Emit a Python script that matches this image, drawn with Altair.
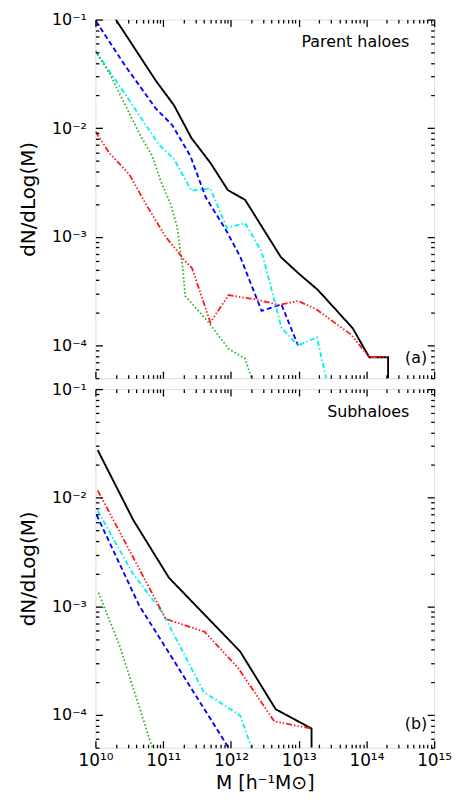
import altair as alt
import pandas as pd

# ---------------- data ----------------
SERIES = ["total", "blue", "cyan", "green", "red"]
COLORS = ["#000000", "#0000ff", "#00f2f2", "#2db52d", "#ff1a1a"]
DASHES = [[1, 0], [5, 3], [5, 2.5, 1.5, 2.5], [1.6, 2.2],
          [6, 2, 1.5, 2, 1.5, 2, 1.5, 2]]
WIDTHS = [1.9, 1.8, 1.8, 1.8, 1.8]

# (a) parent haloes
a_total_m = [2.0e10, 7.76e10, 1.44e11, 2.62e11, 4.98e11, 9.02e11, 1.62e12, 5.47e12,
             1.04e13, 1.92e13, 6.28e13, 1.10e14, 2.09e14, 2.09e14]
a_total_n = [1.0e-1, 2.75e-2, 1.63e-2, 8.1e-3, 4.8e-3, 2.69e-3, 2.19e-3, 6.5e-4,
             4.5e-4, 3.25e-4, 1.44e-4, 7.8e-5, 7.8e-5, 5.0e-5]
a_blue_m = [1.02e10, 2.75e10, 7.76e10, 1.36e11, 2.53e11, 4.25e11, 8.24e11, 1.37e12,
            2.84e12, 5.57e12, 9.79e12]
a_blue_n = [9.66e-2, 3.76e-2, 1.52e-2, 1.07e-2, 5.53e-3, 2.31e-3, 1.19e-3, 6.58e-4,
            2.08e-4, 2.39e-4, 1.0e-4]
a_cyan_m = [1.0e10, 2.82e10, 8.67e10, 1.44e11, 2.62e11, 4.97e11, 8.71e11, 1.62e12,
            2.84e12, 5.57e12, 9.79e12, 1.86e13, 2.55e13]
a_cyan_n = [5.15e-2, 2.01e-2, 7.05e-3, 5.22e-3, 2.66e-3, 2.79e-3, 1.21e-3, 1.34e-3,
            7.31e-4, 1.46e-4, 1.0e-4, 1.19e-4, 5.0e-5]
a_green_m = [1.0e10, 1.60e10, 4.68e10, 6.92e10, 9.18e10, 1.29e11, 1.61e11, 1.95e11,
             2.12e11, 4.70e11, 9.23e11, 1.62e12, 2.02e12]
a_green_n = [5.15e-2, 3.23e-2, 8.41e-3, 5.53e-3, 3.27e-3, 2.01e-3, 1.23e-3, 5.12e-4,
             2.85e-4, 1.63e-4, 9.33e-5, 7.57e-5, 5.0e-5]
a_red_m = [1.0e10, 1.60e10, 3.16e10, 5.53e10, 1.09e11, 2.14e11, 2.67e11, 4.98e11,
           9.23e11, 2.54e12, 5.16e12, 9.79e12, 1.80e13, 5.93e13, 1.10e14, 2.09e14]
a_red_n = [9.33e-3, 5.93e-3, 3.76e-3, 2.01e-3, 1.0e-3, 5.93e-4, 5.15e-4, 1.63e-4,
           2.91e-4, 2.62e-4, 2.36e-4, 2.57e-4, 2.16e-4, 1.26e-4, 7.83e-5, 7.83e-5]

# (b) subhaloes
b_total_m = [1.08e10, 3.61e10, 1.22e11, 1.37e12, 4.58e12, 1.55e13, 1.55e13]
b_total_n = [2.75e-2, 6.25e-3, 1.83e-3, 3.84e-4, 1.13e-4, 7.5e-5, 5.0e-5]
b_blue_m = [1.04e10, 4.42e10, 9.23e11]
b_blue_n = [6.95e-3, 1.02e-3, 5.0e-5]
b_cyan_m = [1.08e10, 3.52e10, 9.70e10, 3.96e11, 1.37e12, 2.02e12]
b_cyan_n = [7.6e-3, 2.03e-3, 8.83e-4, 1.63e-4, 9.88e-5, 5.0e-5]
b_green_m = [1.11e10, 1.44e10, 2.25e10, 6.92e10]
b_green_n = [1.34e-3, 8.83e-4, 4.44e-4, 5.0e-5]
b_red_m = [1.08e10, 1.09e11, 4.10e11, 1.29e12, 4.36e12, 1.52e13]
b_red_n = [1.17e-2, 7.67e-4, 5.82e-4, 2.69e-4, 8.73e-5, 7.5e-5]

# axis ticks
X_MAJOR = [1e10, 1e11, 1e12, 1e13, 1e14, 1e15]
X_MINOR = [k * 10.0 ** e for e in range(10, 15) for k in range(2, 10)]
Y_MAJOR = [1e-4, 1e-3, 1e-2, 1e-1]
Y_MINOR = [k * 1e-5 for k in range(5, 10)] + [k * 10.0 ** e for e in (-4, -3, -2) for k in range(2, 10)]

# annotations
A_TEXT = ["Parent haloes", "(a)"]
A_TEXT_M = [4.3e14, 7.9e14]
A_TEXT_N = [6.2e-2, 7.7e-5]
B_TEXT = ["Subhaloes", "(b)"]
B_TEXT_M = [4.3e14, 7.9e14]
B_TEXT_N = [6.1e-2, 8.3e-5]

# ---------------- build tables ----------------
def table(parts):
    rows = []
    for s, ms, ns in parts:
        for i, (m, n) in enumerate(zip(ms, ns)):
            rows.append({"series": s, "m": m, "n": n, "idx": i})
    return pd.DataFrame(rows)

df_a = table([("total", a_total_m, a_total_n), ("blue", a_blue_m, a_blue_n),
              ("cyan", a_cyan_m, a_cyan_n), ("green", a_green_m, a_green_n),
              ("red", a_red_m, a_red_n)])
df_b = table([("total", b_total_m, b_total_n), ("blue", b_blue_m, b_blue_n),
              ("cyan", b_cyan_m, b_cyan_n), ("green", b_green_m, b_green_n),
              ("red", b_red_m, b_red_n)])
txt_a = pd.DataFrame({"m": A_TEXT_M, "n": A_TEXT_N, "label": A_TEXT})
txt_b = pd.DataFrame({"m": B_TEXT_M, "n": B_TEXT_N, "label": B_TEXT})
dummy = pd.DataFrame({"m": [1e12], "n": [1e-3]})

SUP = str.maketrans("-0123456789", "⁻⁰¹²³⁴⁵⁶⁷⁸⁹")

def label_expr(exps):
    parts = []
    for e in exps[:-1]:
        parts.append(f"datum.value < {3 * 10.0 ** e:.0e} ? '10{str(e).translate(SUP)}'")
    return " : ".join(parts) + f" : '10{str(exps[-1]).translate(SUP)}'"

X_EXPR = label_expr([10, 11, 12, 13, 14, 15])
Y_EXPR = label_expr([-4, -3, -2, -1])

FONT = "DejaVu Sans"
W, H = 341, 361
MAJ, MIN = 7, 3.5

def xs():
    return alt.Scale(type="log", domain=[1e10, 1e15], nice=False)

def ys():
    return alt.Scale(type="log", domain=[5e-5, 1e-1], nice=False)

def tick_axis(orient, values, size):
    return alt.Axis(orient=orient, values=values, offset=-size, tickSize=size,
                    labels=False, domain=False, grid=False, title=None,
                    tickColor="black", tickWidth=1.3, zindex=1)

def panel(df, txt, bottom):
    if bottom:
        xaxis = alt.Axis(orient="bottom", values=X_MAJOR, labelExpr=X_EXPR, ticks=False,
                         domain=False, grid=False, title="M  [h⁻¹M⊙]", labelFlush=False,
                         labelFont=FONT, labelFontSize=17, labelColor="black",
                         labelPadding=5, titleFont=FONT, titleFontSize=19,
                         titleFontWeight="normal", titleColor="black", titlePadding=5)
    else:
        xaxis = None
    yaxis = alt.Axis(orient="left", values=Y_MAJOR, labelExpr=Y_EXPR, ticks=False,
                     domain=False, grid=False, title="dN/dLog(M)", labelFlush=False,
                     labelFont=FONT, labelFontSize=16, labelColor="black",
                     labelPadding=9, titleFont=FONT, titleFontSize=20,
                     titleFontWeight="normal", titleColor="black", titlePadding=13)
    lines = alt.Chart(df).mark_line(clip=True, strokeCap="butt").encode(
        x=alt.X("m:Q", scale=xs(), axis=xaxis),
        y=alt.Y("n:Q", scale=ys(), axis=yaxis),
        color=alt.Color("series:N", scale=alt.Scale(domain=SERIES, range=COLORS), legend=None),
        strokeDash=alt.StrokeDash("series:N", scale=alt.Scale(domain=SERIES, range=DASHES), legend=None),
        strokeWidth=alt.StrokeWidth("series:N", scale=alt.Scale(domain=SERIES, range=WIDTHS), legend=None),
        order="idx:Q",
    )
    layers = [lines]
    for xo, yo, size, xv, yv in [("bottom", "left", MAJ, X_MAJOR, Y_MAJOR),
                                 ("bottom", "left", MIN, X_MINOR, Y_MINOR),
                                 ("top", "right", MAJ, X_MAJOR, Y_MAJOR),
                                 ("top", "right", MIN, X_MINOR, Y_MINOR)]:
        layers.append(alt.Chart(dummy).mark_point(opacity=0).encode(
            x=alt.X("m:Q", scale=xs(), axis=tick_axis(xo, xv, size)),
            y=alt.Y("n:Q", scale=ys(), axis=tick_axis(yo, yv, size)),
        ))
    layers.append(alt.Chart(txt).mark_text(align="right", baseline="middle", font=FONT,
                                           fontSize=16, color="black").encode(
        x=alt.X("m:Q", scale=xs(), axis=None),
        y=alt.Y("n:Q", scale=ys(), axis=None),
        text="label:N",
    ))
    return alt.layer(*layers).resolve_axis(x="independent", y="independent").properties(
        width=W, height=H)

chart = alt.vconcat(panel(df_a, txt_a, False), panel(df_b, txt_b, True), spacing=0).properties(
    padding={"left": 10, "top": 0, "right": 2, "bottom": 2}
).configure_view(stroke="black", strokeWidth=1.6).configure(background="white")

chart.save("out.html", embed_options={"renderer": "svg", "actions": False})
